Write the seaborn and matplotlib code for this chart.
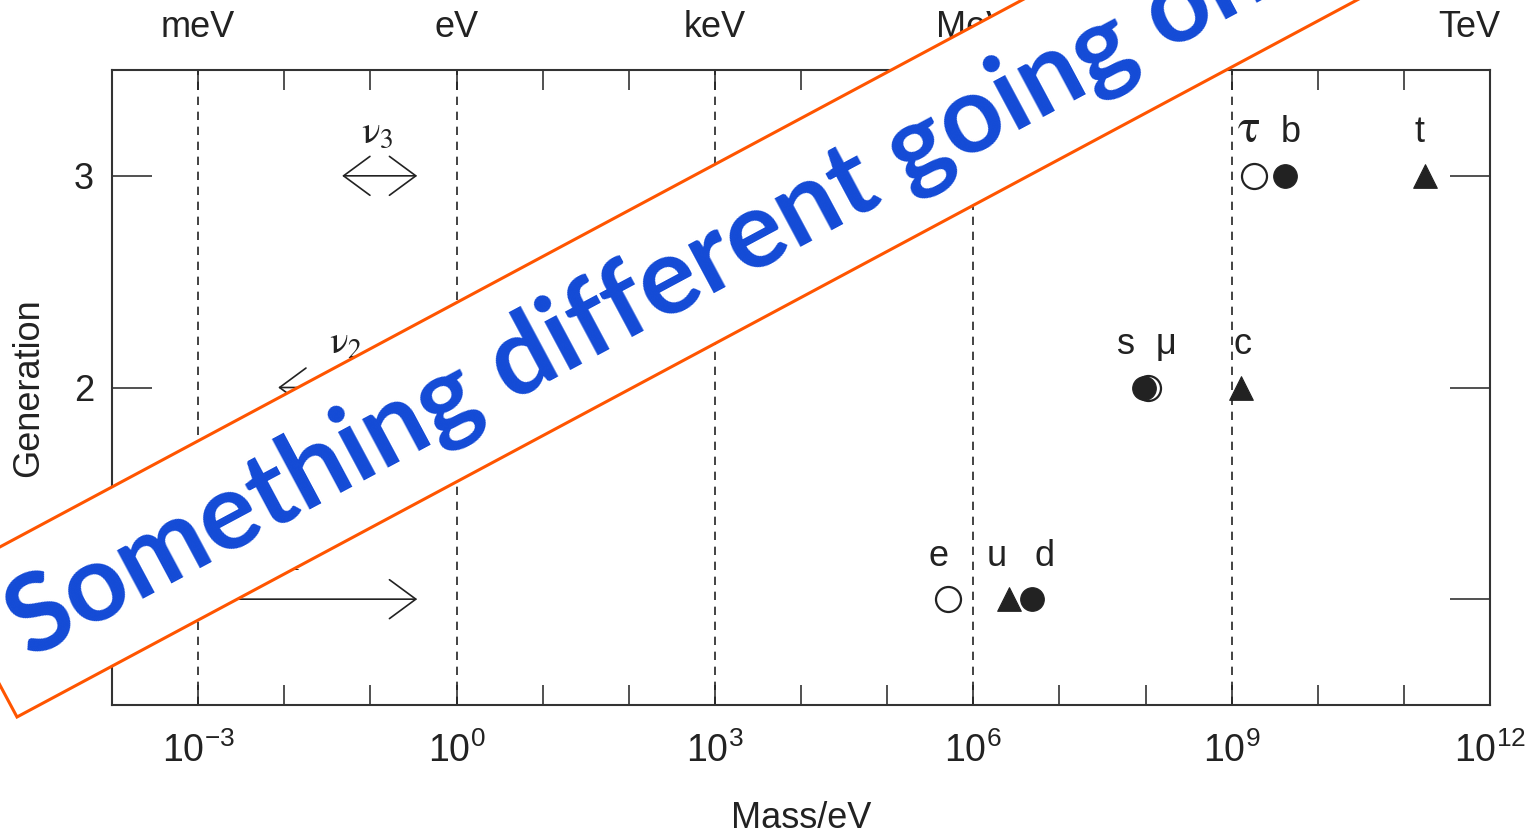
import numpy as np
import pandas as pd
import matplotlib
matplotlib.use("Agg")
import matplotlib.pyplot as plt
from matplotlib.patches import Polygon
from matplotlib.ticker import LogLocator, NullLocator, FuncFormatter, FixedLocator
import seaborn as sns

# ---------------- data ----------------
particles = ["e", "u", "d", "μ", "s", "c", "τ", "b", "t"]
generation = [1, 1, 1, 2, 2, 2, 3, 3, 3]
mass_eV = [5.11e5, 2.6e6, 4.8e6, 1.06e8, 9.5e7, 1.3e9, 1.8e9, 4.2e9, 1.75e11]
kind = ["lepton", "up", "down", "lepton", "down", "up", "lepton", "down", "up"]
label_dx = [-7, -9, 9, 13, -13, 1, -4, 4, -4]

nu_names = [r"$\mathrm{\nu}_{1}$", r"$\mathrm{\nu}_{2}$", r"$\mathrm{\nu}_{3}$"]
nu_gen = [1, 2, 3]
nu_low = [1e-4, 8.5e-3, 4.7e-2]
nu_high = [0.35, 0.35, 0.35]
nu_label_x = [1.0e-2, 5.1e-2, 0.12]
nu_double = [False, True, True]

unit_decades = [1e-3, 1e0, 1e3, 1e6, 1e9, 1e12]
unit_labels = ["meV", "eV", "keV", "MeV", "GeV", "TeV"]
dashed_decades = [1e-3, 1e0, 1e3, 1e6, 1e9]
gen_ticks = [1, 2, 3]

banner_text = "Something different going on"

# ---------------- style ----------------
sns.set_theme(style="ticks")
plt.rcParams["font.family"] = ["Liberation Sans", "DejaVu Sans"]
plt.rcParams["mathtext.fontset"] = "custom"
plt.rcParams["mathtext.rm"] = "Liberation Sans"
plt.rcParams["mathtext.it"] = "Liberation Sans:italic"
plt.rcParams["mathtext.bf"] = "Liberation Sans:bold"

INK = "#222222"
FS = 26

fig = plt.figure(figsize=(15.3, 8.35), dpi=100)
fig.patch.set_facecolor("white")
ax = fig.add_axes([112 / 1530, 1 - 705 / 835, 1378 / 1530, 635 / 835])
ax.set_xscale("log")
ax.set_xlim(1e-4, 1e12)
ax.set_ylim(0.5, 3.5)

df = pd.DataFrame(dict(particle=particles, generation=generation,
                       mass=mass_eV, kind=kind))

# dashed decade lines
for xv in dashed_decades:
    ax.axvline(xv, color=INK, lw=1.2, ls=(0, (5, 4)), zorder=1)

# markers
sns.scatterplot(data=df[df.kind == "lepton"], x="mass", y="generation", ax=ax,
                marker="o", s=18 ** 2, facecolor="white", edgecolor=INK,
                linewidth=1.6, zorder=3, legend=False)
sns.scatterplot(data=df[df.kind == "down"], x="mass", y="generation", ax=ax,
                marker="o", s=17 ** 2, color=INK, edgecolor=INK,
                linewidth=0.8, zorder=4, legend=False)
sns.scatterplot(data=df[df.kind == "up"], x="mass", y="generation", ax=ax,
                marker="^", s=17 ** 2, color=INK, edgecolor=INK,
                linewidth=0.8, zorder=4, legend=False)

# particle labels
for name, m, g, dx in zip(particles, mass_eV, generation, label_dx):
    if name == "τ":
        ax.annotate(r"$\mathrm{\tau}$", (m, g), xytext=(dx, 24), textcoords="offset points",
                    ha="center", va="baseline", fontsize=FS + 8, color=INK,
                    math_fontfamily="stix")
    else:
        ax.annotate(name, (m, g), xytext=(dx, 24), textcoords="offset points",
                    ha="center", va="baseline", fontsize=FS, color=INK)

# neutrino arrows
for nm, g, lo, hi, lx, dbl in zip(nu_names, nu_gen, nu_low, nu_high, nu_label_x, nu_double):
    style = "<->" if dbl else "->"
    ax.annotate("", xy=(hi, g), xytext=(lo, g),
                arrowprops=dict(arrowstyle=f"{style},head_length=0.95,head_width=0.7",
                                lw=1.2, color=INK, shrinkA=0, shrinkB=0,
                                mutation_scale=20))
    ax.annotate(nm, (lx, g), xytext=(0, 24), textcoords="offset points",
                ha="center", va="baseline", fontsize=FS + 2, color=INK,
                math_fontfamily="stix")

# ticks
ax.xaxis.set_major_locator(LogLocator(base=10, numticks=30))
ax.xaxis.set_minor_locator(NullLocator())


def fmt(v, pos):
    e = int(round(np.log10(v)))
    return r"$\mathdefault{10^{%d}}$" % e if e % 3 == 0 else ""


ax.xaxis.set_major_formatter(FuncFormatter(fmt))
ax.yaxis.set_major_locator(FixedLocator(gen_ticks))
ax.yaxis.set_minor_locator(NullLocator())
ax.tick_params(axis="x", which="major", direction="in", top=True, bottom=True,
               length=14.5, width=1.1, color=INK, labelsize=FS + 1, pad=20,
               labelcolor=INK)
ax.tick_params(axis="y", which="major", direction="in", left=True, right=True,
               length=29, width=1.1, color=INK, labelsize=FS, pad=13,
               labelcolor=INK)
for sp in ax.spines.values():
    sp.set_color("#333333")
    sp.set_linewidth(1.5)

ax.set_xlabel("Mass/eV", fontsize=FS, color=INK, labelpad=22)
ax.set_ylabel("Generation", fontsize=FS, color=INK, labelpad=20)

# unit labels on top
for xv, lab in zip(unit_decades, unit_labels):
    dx = -15 if lab == "TeV" else 0
    ax.annotate(lab, (xv, 1.0), xycoords=("data", "axes fraction"),
                xytext=(dx, 24), textcoords="offset points", ha="center",
                va="baseline", fontsize=FS, color=INK, annotation_clip=False)

# ---------------- overlay banner ----------------
ang = np.deg2rad(28.15)
u = np.array([np.cos(ang), np.sin(ang)])
v = np.array([-np.sin(ang), np.cos(ang)])
bl = np.array([0.17, 1.18])
thick = 1.58
length = 25.0
corners = [bl, bl + length * u, bl + length * u + thick * v, bl + thick * v]
banner = Polygon(corners, closed=True, facecolor="white", edgecolor="#FF5500",
                 lw=2.2, transform=fig.dpi_scale_trans, zorder=10)
fig.add_artist(banner)
mid = bl + (thick / 2 - 0.04) * v
s_along = (6.38 - mid[0]) / u[0]
c = mid + s_along * u
fig.text(c[0], c[1], banner_text, transform=fig.dpi_scale_trans,
         rotation=np.rad2deg(ang), rotation_mode="anchor", ha="center",
         va="center", fontsize=78, fontweight="bold", color="#134AD6",
         family=["Lato", "DejaVu Sans"], zorder=11)

fig.savefig("out.png", dpi=100, facecolor="white")
